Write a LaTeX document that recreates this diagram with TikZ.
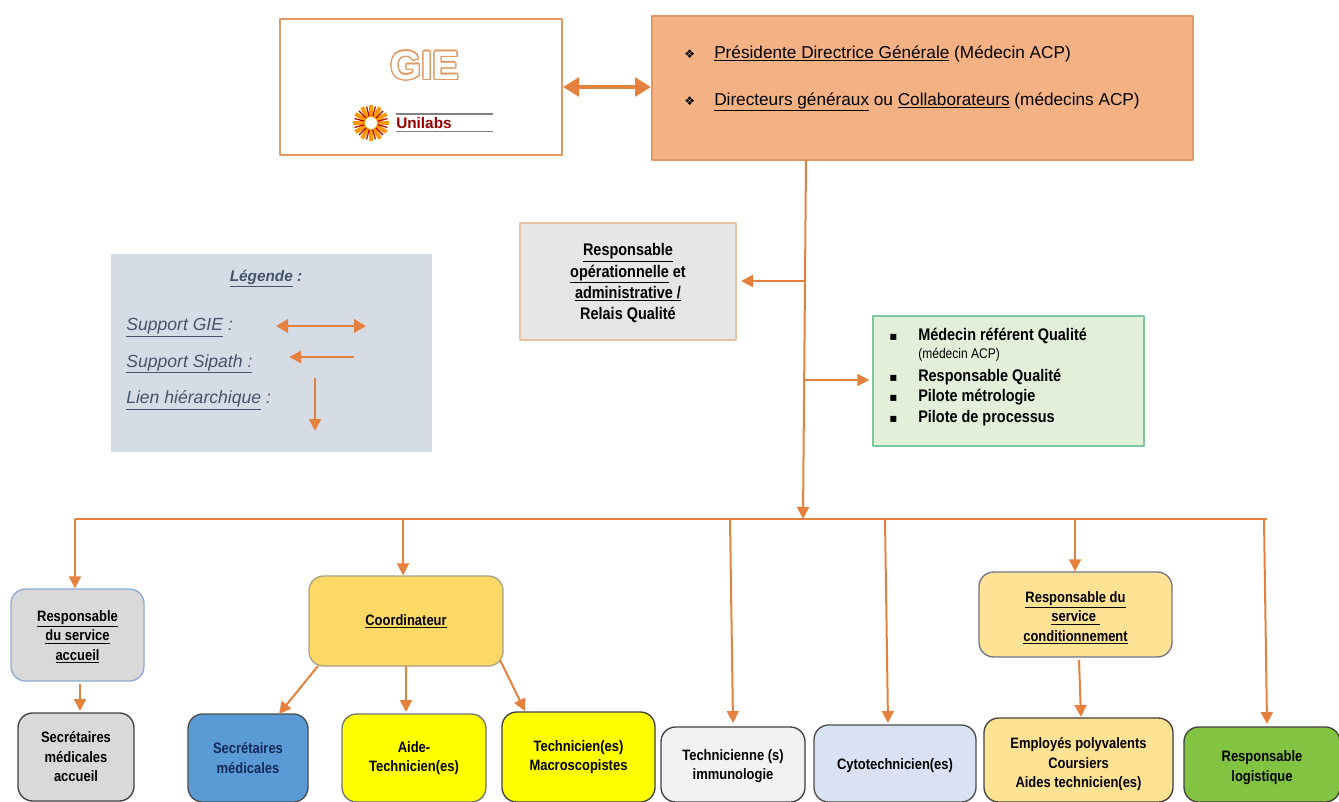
\documentclass[tikz,border=0pt]{standalone}
\usepackage{fontspec}
\setmainfont{Liberation Sans}
\newfontfamily\etroit[FakeStretch=0.86]{Liberation Sans}
\newfontfamily\symb{DejaVu Sans}
\usepackage{contour}
\contourlength{0.9pt}
\usetikzlibrary{arrows.meta}
\definecolor{orangeTrait}{HTML}{E5813F}
\definecolor{orangeBord}{HTML}{DE9A62}
\definecolor{bleuLegende}{HTML}{44546A}
\definecolor{jaunePur}{HTML}{FFFF00}
\newcommand{\soul}[1]{\underline{#1}}
\newcommand{\bas}[1]{\rule{0pt}{#1pt}}
\newcommand{\puceA}{\makebox[22.5pt][l]{\symb\small ❖}}
\newcommand{\puceB}{\makebox[21.75pt][l]{\symb\small ▪}}
\begin{document}
\begin{tikzpicture}
[x=0.75pt,y=-0.75pt,line join=round,%
  taille/.style 2 args={minimum width=#1*0.75pt,minimum height=#2*0.75pt,inner sep=0pt},
  carre/.style={draw,line width=1.5pt,align=center},
  arrondi/.style={draw,line width=1pt,rounded corners=11pt,align=center,
    font=\etroit\bfseries\fontsize{11.3}{14.6}\selectfont},
  lien/.style={draw=orangeTrait,line width=1.5pt,-{Triangle[length=9pt,width=9pt]}},
  support/.style={draw=orangeTrait,line width=2.8pt,{Triangle[length=12pt,width=14pt]}-{Triangle[length=12pt,width=14pt]}},
  supportLeg/.style={draw=orangeTrait,line width=2pt,{Triangle[length=9pt,width=10pt]}-{Triangle[length=9pt,width=10pt]}},
  texteLeg/.style={anchor=west,text=bleuLegende,inner sep=0pt,font=\itshape\fontsize{13.2}{15}\selectfont}]

\useasboundingbox (0,0) rectangle (1339,802);

\node[carre,taille={282}{136},draw=orangeBord,fill=white] (gie) at (421,87) {};
\node[inner sep=0pt,text=white,font=\bfseries\fontsize{30}{31}\selectfont] (sigle) at (425,66) {\contour{orangeBord}{GIE}};
\node[inner sep=0pt,text=red!60!black,font=\bfseries\fontsize{11.5}{12}\selectfont,anchor=west] (unilabs) at (396,123) {Unilabs};
\coordinate (soleil) at (371,123);
\foreach \a in {0,30,...,330}
  \draw[orange!80!yellow,line width=3pt] (soleil) ++(\a:6) -- ++(\a:12);
\foreach \a in {15,45,...,345}
  \draw[red!70!black,line width=0.9pt] (soleil) ++(\a:7) -- ++(\a:10);
\draw[gray,line width=0.8pt] (396,114) -- (493,114) (396,131.5) -- (493,131.5);

\node[carre,taille={541}{144},draw=orangeBord,fill={rgb,255:red,244;green,177;blue,131}] (pdg) at (922.5,88) {};
\node[anchor=west,inner sep=0pt,align=left,font=\fontsize{12.9}{35}\selectfont] (direction) at (684,78.5)
  {\puceA\soul{Présidente Directrice Générale} (Médecin ACP)\\
   \puceA\soul{Directeurs généraux} ou \soul{Collaborateurs} (médecins ACP)};

\node[taille={321}{198},fill={rgb,255:red,214;green,220;blue,229}] (legende) at (271.5,353) {};
\node[inner sep=0pt,text=bleuLegende,font=\bfseries\itshape\fontsize{11.5}{13}\selectfont] (titreLeg) at (266,279) {\soul{Légende} :};
\node[texteLeg] (legGie) at (126,328) {\soul{Support GIE} :};
\node[texteLeg] (legSipath) at (126,364) {\soul{Support Sipath :}};
\node[texteLeg] (legLien) at (126,400) {\soul{Lien hiérarchique} :};
\coordinate (legA) at (276,326);
\coordinate (legB) at (366,326);
\coordinate (legC) at (354,357);
\coordinate (legD) at (289,357);
\coordinate (legE) at (315,378);
\coordinate (legF) at (315,431);
\draw[supportLeg] (legA) -- (legB);
\draw[lien] (legC) -- (legD);
\draw[lien] (legE) -- (legF);

\node[carre,taille={216}{117},draw=orangeBord!60!white,fill={rgb,255:red,231;green,230;blue,230},font=\etroit\bfseries\fontsize{12.6}{16}\selectfont] (relais) at (628,282)
  {\bas{11}\soul{Responsable}\\ \soul{opérationnelle} et\\ \soul{administrative /}\\ Relais Qualité};

\node[carre,taille={271}{130},draw={rgb,255:red,125;green,200;blue,155},fill={rgb,255:red,226;green,240;blue,217}] (qualite) at (1008.5,381) {};
\node[anchor=west,inner sep=0pt,align=left,font=\etroit\bfseries\fontsize{12.6}{15.6}\selectfont] (listeQualite) at (889,377)
  {\puceB Médecin référent Qualité\\[-1.5pt]
   \makebox[21.75pt]{}{\mdseries\fontsize{10.5}{12}\selectfont (médecin ACP)}\\[1pt]
   \puceB Responsable Qualité\\
   \puceB Pilote métrologie\\
   \puceB Pilote de processus};

\coordinate (tronc) at (806,160);
\coordinate (troncBas) at (803,519);
\coordinate (barreG) at (75,519);
\coordinate (barreD) at (1267,519);
\coordinate (versRelais) at (805,281);
\coordinate (versQualite) at (805,380);
\draw[support] (gie.east) -- (pdg.west |- gie.east);
\draw[lien] (tronc) -- (troncBas);
\draw[draw=orangeTrait,line width=1.8pt] (barreG) -- (barreD);
\draw[lien] (versRelais) -- ([xshift=3pt]relais.east |- versRelais);
\draw[lien] (versQualite) -- ([xshift=-2pt]qualite.west |- versQualite);

\node[arrondi,taille={133}{92},draw={rgb,255:red,143;green,170;blue,210},fill={rgb,255:red,217;green,217;blue,217}] (respAccueil) at (77.5,635)
  {\bas{11}\soul{Responsable}\\ \soul{du service}\\ \soul{accueil}};
\node[arrondi,taille={116}{88},draw=black!75,fill={rgb,255:red,217;green,217;blue,217}] (secAccueil) at (76,757)
  {Secrétaires\\ médicales\\ accueil};
\node[arrondi,taille={194}{90},draw=gray!80!yellow,fill={rgb,255:red,255;green,217;blue,102}] (coord) at (406,621) {\soul{Coordinateur}};
\node[arrondi,taille={120}{88},draw=black!70,fill={rgb,255:red,91;green,155;blue,213},text={rgb,255:red,20;green,40;blue,90}] (secMed) at (248,758)
  {Secrétaires\\ médicales};
\node[arrondi,taille={144}{88},draw=black!55,fill=jaunePur] (aide) at (414,758)
  {Aide-\\ Technicien(es)};
\node[arrondi,taille={153}{90},draw=black!75,fill=jaunePur] (macro) at (578.5,757)
  {Technicien(es)\\ Macroscopistes};
\node[arrondi,taille={144}{75},draw=black!75,fill={rgb,255:red,242;green,242;blue,242}] (immuno) at (733,764.5)
  {\bas{11}Technicienne (s)\\ immunologie};
\node[arrondi,taille={162}{77},draw=black!70,fill={rgb,255:red,217;green,226;blue,243}] (cyto) at (895,763.5)
  {\bas{11}Cytotechnicien(es)};
\node[arrondi,taille={193}{85},draw=gray!90!blue,fill={rgb,255:red,255;green,226;blue,148}] (respCond) at (1075.5,614.5)
  {\bas{13}\soul{Responsable du}\\ \soul{service\ }\\ \soul{conditionnement}};
\node[arrondi,taille={189}{84},draw=black!75,fill={rgb,255:red,255;green,226;blue,148}] (employes) at (1078.5,760)
  {\bas{15}Employés polyvalents\\ Coursiers\\ Aides technicien(es)};
\node[arrondi,taille={156}{75},draw=black!75,fill={rgb,255:red,130;green,196;blue,65}] (logistique) at (1262,764.5)
  {\bas{13}Responsable\\ logistique};

\coordinate (brA) at (403,519);
\coordinate (brB) at (730,519);
\coordinate (brC) at (885,519);
\coordinate (brD) at (1075,519);
\coordinate (brE) at (1264,519);
\coordinate (brAccueilA) at (80,684);
\coordinate (brAccueilB) at (80,711);
\coordinate (brCoordA) at (318,666);
\coordinate (brCoordB) at (279,714);
\coordinate (brCoordC) at (406,666);
\coordinate (brCoordD) at (406,712);
\coordinate (brCoordE) at (500,660);
\coordinate (brCoordF) at (525,711);
\coordinate (brImmuno) at (733,723);
\coordinate (brCyto) at (888,723);
\coordinate (brCondA) at (1079,660);
\coordinate (brCondB) at (1081,717);
\coordinate (brLogi) at (1267,724);
\draw[lien] (barreG) -- (barreG |- respAccueil.north);
\draw[lien] (brAccueilA) -- (brAccueilB);
\draw[lien] (brA) -- (brA |- coord.north);
\draw[lien] (brCoordA) -- (brCoordB);
\draw[lien] (brCoordC) -- (brCoordD);
\draw[lien] (brCoordE) -- (brCoordF);
\draw[lien] (brB) -- (brImmuno);
\draw[lien] (brC) -- (brCyto);
\draw[lien] (brD) -- (brD |- respCond.north);
\draw[lien] (brCondA) -- (brCondB);
\draw[lien] (brE) -- (brLogi);
\end{tikzpicture}
\end{document}
